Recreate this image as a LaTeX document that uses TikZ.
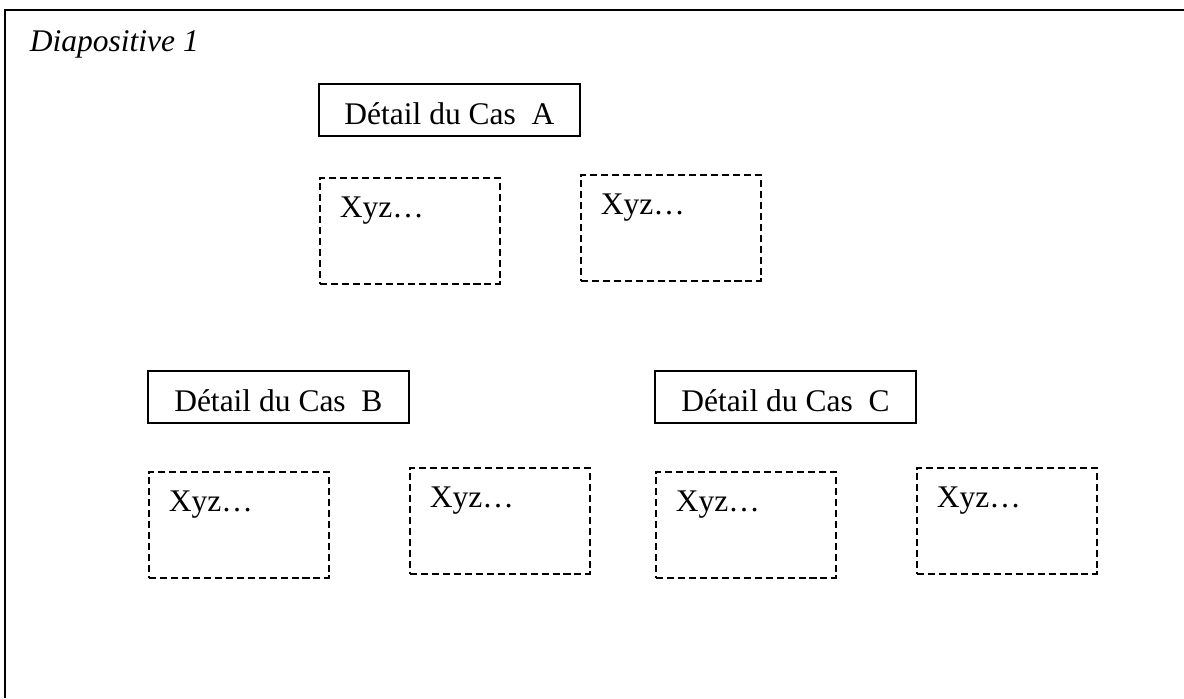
\documentclass[tikz,border=0pt]{standalone}
\usepackage{fontspec}
\setmainfont{Liberation Serif}
\begin{document}
\begin{tikzpicture}[x=0.025cm,y=-0.025cm]

    \tikzset{
      cas/.style={
        draw,
        line width=1.2pt,
        anchor=north west,
        inner sep=0pt,
        minimum width=6.525cm,
        text height=1.025cm,
        text depth=0.275cm,
        font=\fontsize{22.4}{27}\selectfont,
      },
      detail/.style={
        draw,
        dash pattern=on 5pt off 2.8pt,
        line width=1.3pt,
        anchor=north west,
        inner xsep=0.5cm,
        inner ysep=0pt,
        text width=3.5cm,
        align=left,
        text height=1cm,
        text depth=1.65cm,
        font=\fontsize{22.4}{27}\selectfont,
      },
    }
    \useasboundingbox (0,0) rectangle (1184,698);
	\draw[line width=1.5pt] (5,698) |- (1184,10);
	\node[anchor=base west,font=\fontsize{22.4}{27}\selectfont\itshape] (titre) at (25,51) {Diapositive 1};
	\node[cas] (casA) at (318,83) {Détail du Cas\ \ A};
	\node[cas] (casB) at (147,370) {Détail du Cas\ \ B};
	\node[cas] (casC) at (654,370) {Détail du Cas\ \ C};
	\node[detail] (a1) at (319,177) {Xyz…};
	\node[detail] (a2) at (580,174) {Xyz…};
	\node[detail] (b1) at (148,471) {Xyz…};
	\node[detail] (b2) at (409,467) {Xyz…};
	\node[detail] (c1) at (655,471) {Xyz…};
	\node[detail] (c2) at (916,467) {Xyz…};

\end{tikzpicture}
\end{document}
